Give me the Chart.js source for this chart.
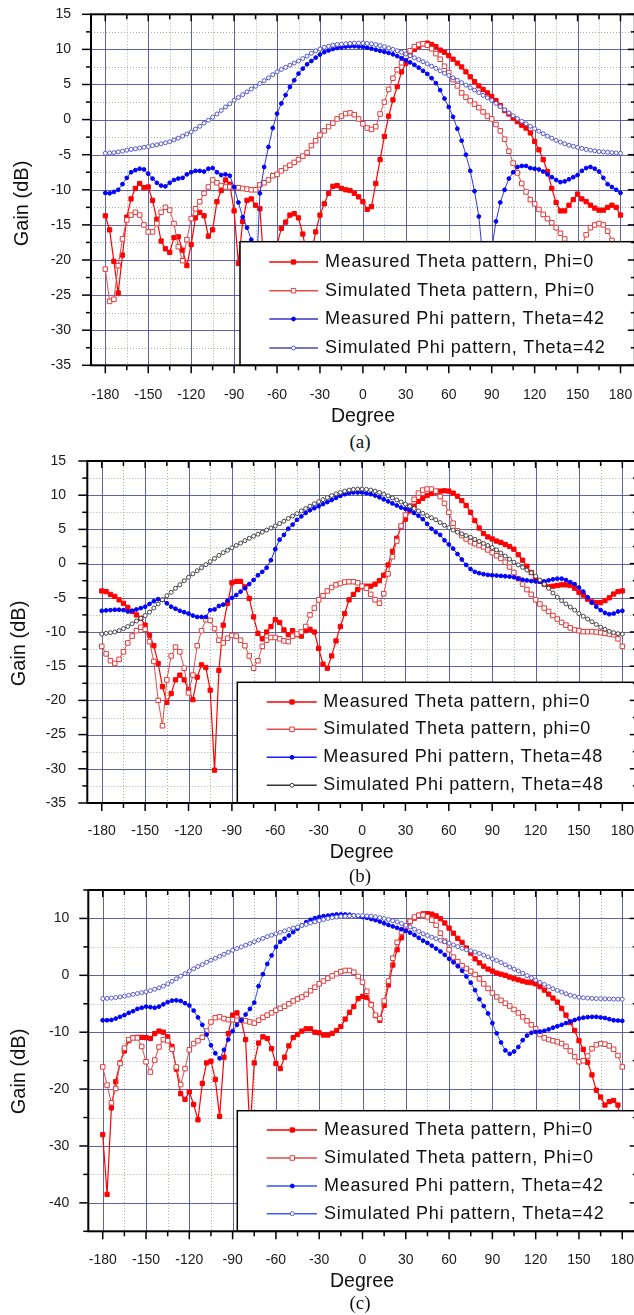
<!DOCTYPE html>
<html><head><meta charset="utf-8"><title>Gain patterns</title>
<script src="https://cdn.jsdelivr.net/npm/chart.js@4.4.1/dist/chart.umd.min.js"></script>
<style>
html,body{margin:0;padding:0;background:#fff;}
body{width:634px;height:1315px;overflow:hidden;position:relative;}
.pan{position:absolute;left:0;width:645px;}
.pan canvas{display:block;}
.cap{position:absolute;left:300px;width:120px;text-align:center;font-family:"Liberation Serif","Times New Roman",serif;font-size:19px;line-height:19px;color:#111;}
</style></head><body>
<div class="pan" style="top:0;height:430px"><canvas id="cA" width="645" height="430"></canvas></div>
<div class="cap" style="top:432px">(a)</div>
<div class="pan" style="top:450px;height:420px"><canvas id="cB" width="645" height="420"></canvas></div>
<div class="cap" style="top:866px">(b)</div>
<div class="pan" style="top:880px;height:415px"><canvas id="cC" width="645" height="415"></canvas></div>
<div class="cap" style="top:1293px">(c)</div>
<script>
// ---------------- DATA ----------------
const angles = [-180,-177,-174,-171,-168,-165,-162,-159,-156,-153,
-150,-147,-144,-141,-138,-135,-132,-129,-126,-123,
-120,-117,-114,-111,-108,-105,-102,-99,-96,-93,
-90,-87,-84,-81,-78,-75,-72,-69,-66,-63,
-60,-57,-54,-51,-48,-45,-42,-39,-36,-33,
-30,-27,-24,-21,-18,-15,-12,-9,-6,-3,
0,3,6,9,12,15,18,21,24,27,
30,33,36,39,42,45,48,51,54,57,
60,63,66,69,72,75,78,81,84,87,
90,93,96,99,102,105,108,111,114,117,
120,123,126,129,132,135,138,141,144,147,
150,153,156,159,162,165,168,171,174,177,
180];

const xTickLabels = [-180,-150,-120,-90,-60,-30,0,30,60,90,120,150,180];
const yTickLabelsAB = [-35,-30,-25,-20,-15,-10,-5,0,5,10,15];
const yTickLabelsC = [-40,-30,-20,-10,0,10];

const labelsA = ["Measured Theta pattern, Phi=0","Simulated Theta pattern, Phi=0","Measured Phi pattern, Theta=42","Simulated Phi pattern, Theta=42"];
const labelsB = ["Measured Theta pattern, phi=0","Simulated Theta pattern, phi=0","Measured Phi pattern, Theta=48","Simulated Phi pattern, Theta=48"];
const labelsC = ["Measured Theta pattern, Phi=0","Simulated Theta pattern, Phi=0","Measured Phi pattern, Theta=42","Simulated Phi pattern, Theta=42"];

// Panel (a)
const measThetaA = [-13.7,-15.7,-20.2,-24.7,-19.3,-13.9,-11.3,-9.8,-9.1,-9.7,
-9.6,-11.5,-14.2,-17.3,-18.4,-18.9,-16.8,-16.7,-18.6,-20.8,
-17.8,-14.0,-13.2,-13.7,-16.6,-15.7,-11.7,-10.1,-8.6,-9.2,
-13.0,-20.5,-14.5,-11.5,-11.3,-12.2,-12.7,-21.0,-24.0,-20.5,
-17.8,-15.5,-14.6,-13.6,-13.4,-14.0,-16.3,-19.5,-19.0,-16.0,
-13.6,-12.0,-10.5,-9.5,-9.4,-9.8,-10.0,-10.1,-10.5,-11.0,
-11.7,-12.8,-12.4,-9.1,-5.7,-2.4,0.5,2.8,4.7,6.8,
8.0,9.4,10.0,10.4,10.8,10.9,10.7,10.4,9.9,9.6,
9.1,8.6,8.05,7.5,6.8,6.1,5.4,4.8,4.3,3.8,
3.3,2.7,2.0,1.3,0.8,0.2,-0.3,-0.8,-1.2,-1.9,
-3.1,-4.3,-5.7,-7.4,-9.8,-11.8,-13.0,-13.0,-12.2,-11.4,
-10.6,-11.3,-11.7,-12.2,-12.6,-12.9,-12.9,-12.5,-12.2,-12.5,
-13.6];
const simThetaA = [-21.3,-25.9,-25.6,-20.8,-17.0,-14.3,-13.6,-13.2,-13.6,-15.0,
-16.0,-16.0,-14.8,-13.2,-12.5,-12.9,-14.8,-18.1,-20.1,-17.1,
-14.1,-12.7,-11.7,-10.5,-9.6,-8.6,-9.0,-9.4,-9.6,-9.6,
-9.7,-9.7,-9.8,-9.9,-10.0,-10.0,-9.3,-9.0,-8.6,-8.0,
-7.8,-7.3,-6.9,-6.5,-6.1,-5.7,-5.2,-4.7,-3.7,-3.0,
-2.2,-1.6,-1.0,-0.5,0.1,0.5,0.85,0.95,0.7,0.1,
-0.6,-1.2,-1.4,-1.0,0.8,2.5,4.3,5.9,7.1,8.1,
9.0,9.8,10.4,10.7,10.8,10.6,10.1,9.4,8.6,7.6,
6.7,5.7,4.8,3.8,3.2,2.7,2.2,1.7,1.1,0.5,
0.1,-0.7,-1.6,-2.8,-4.5,-6.2,-7.6,-9.1,-10.3,-11.4,
-12.0,-12.8,-13.5,-14.1,-14.7,-15.4,-16.2,-17.0,-19.5,-21.5,
-20.5,-18.0,-16.4,-15.4,-15.0,-14.8,-15.0,-15.9,-17.2,-19.5,
-21.3];
const measPhiA = [-10.45,-10.5,-10.3,-10.0,-9.2,-8.3,-7.5,-7.2,-7.0,-7.1,
-7.7,-8.4,-9.0,-9.4,-9.5,-9.0,-8.6,-8.4,-8.3,-7.8,
-7.5,-7.3,-7.3,-7.4,-7.0,-6.9,-7.5,-7.9,-7.8,-8.0,
-9.6,-11.8,-13.9,-15.4,-17.1,-25.0,-10.5,-6.75,-3.9,-1.2,
0.85,2.3,3.5,4.65,5.6,6.55,7.27,7.88,8.35,8.83,
9.26,9.6,9.85,10.05,10.2,10.3,10.4,10.45,10.45,10.4,
10.35,10.25,10.1,9.95,9.8,9.65,9.5,9.3,9.05,8.75,
8.45,8.15,7.8,7.4,6.95,6.5,5.9,5.2,4.2,3.0,
1.8,0.4,-1.3,-3.0,-5.0,-7.3,-10.2,-13.8,-20.0,-26.0,
-18.5,-14.5,-11.8,-10.0,-8.4,-7.5,-6.75,-6.6,-6.6,-6.9,
-7.0,-7.1,-7.4,-7.8,-8.2,-8.6,-8.9,-8.8,-8.5,-8.2,
-7.9,-7.3,-6.9,-6.75,-7.0,-7.4,-8.3,-9.2,-9.6,-10.0,
-10.45];
const simPhiA = [-4.8,-4.75,-4.7,-4.6,-4.5,-4.35,-4.25,-4.15,-4.05,-3.95,
-3.85,-3.7,-3.6,-3.45,-3.3,-3.15,-2.9,-2.65,-2.35,-2.05,
-1.75,-1.35,-0.95,-0.5,-0.1,0.35,0.8,1.3,1.8,2.25,
2.75,3.15,3.55,3.95,4.35,4.75,5.15,5.55,5.95,6.4,
6.8,7.15,7.45,7.75,8.05,8.35,8.7,9.05,9.45,9.8,
10.05,10.3,10.45,10.6,10.7,10.75,10.8,10.85,10.9,10.9,
10.9,10.85,10.8,10.7,10.55,10.4,10.2,10.0,9.8,9.6,
9.35,9.1,8.8,8.55,8.25,7.95,7.6,7.3,6.95,6.6,
6.3,5.95,5.6,5.25,4.9,4.55,4.2,3.85,3.45,3.1,
2.75,2.3,1.85,1.4,0.95,0.55,0.15,-0.25,-0.6,-0.95,
-1.3,-1.65,-2.0,-2.35,-2.65,-2.95,-3.2,-3.45,-3.65,-3.8,
-3.95,-4.1,-4.25,-4.35,-4.45,-4.55,-4.6,-4.65,-4.7,-4.75,
-4.8];

// Panel (b)
const measThetaB = [-4.0,-4.1,-4.5,-4.8,-5.3,-5.8,-6.4,-7.0,-7.5,-8.0,
-9.0,-10.5,-12.0,-14.6,-18.0,-20.3,-19.0,-17.0,-16.3,-17.0,
-18.4,-19.9,-16.6,-14.8,-15.2,-18.5,-30.2,-15.6,-9.0,-5.8,
-2.8,-2.6,-2.6,-3.4,-5.1,-7.8,-10.2,-11.0,-10.0,-9.2,
-8.2,-8.6,-9.7,-10.4,-9.8,-10.4,-10.6,-9.8,-9.6,-10.0,
-12.4,-14.7,-15.3,-13.5,-11.3,-9.2,-7.3,-5.3,-4.5,-3.8,
-3.4,-3.3,-3.3,-3.0,-2.5,-1.7,-0.2,1.8,3.7,5.4,
6.5,7.7,8.4,9.1,9.55,9.95,10.25,10.45,10.6,10.65,
10.6,10.3,9.85,9.2,8.5,7.5,6.3,5.2,4.4,3.9,
3.6,3.3,3.1,2.8,2.5,2.1,1.3,0.5,-0.4,-1.3,
-2.1,-2.6,-3.0,-3.4,-3.3,-3.2,-3.1,-3.1,-3.2,-3.6,
-4.2,-4.6,-5.2,-5.6,-5.7,-5.7,-5.4,-5.0,-4.45,-4.1,
-4.0];
const simThetaB = [-12.1,-13.2,-14.2,-14.6,-14.0,-12.9,-11.6,-10.6,-9.8,-9.3,
-9.6,-11.4,-14.3,-20.0,-23.7,-17.0,-13.5,-12.2,-12.9,-15.3,
-18.9,-16.3,-12.0,-9.8,-8.2,-8.3,-9.5,-11.2,-11.6,-10.9,
-10.5,-10.6,-11.2,-12.0,-13.5,-15.3,-14.2,-12.1,-11.2,-10.8,
-10.8,-11.0,-11.3,-11.4,-10.6,-10.3,-10.0,-9.2,-7.5,-6.5,
-5.3,-4.7,-4.0,-3.5,-3.1,-2.9,-2.7,-2.65,-2.65,-2.8,
-3.3,-3.6,-4.5,-5.3,-5.8,-4.4,-1.5,1.0,3.3,5.5,
7.1,8.4,9.4,10.3,10.75,10.9,10.9,10.6,9.8,8.8,
7.5,5.9,4.8,4.1,3.6,3.2,2.9,2.65,2.45,2.0,
1.6,1.15,0.75,0.2,-0.5,-1.3,-2.2,-3.0,-3.8,-4.5,
-5.3,-5.9,-6.5,-7.0,-7.6,-8.1,-8.6,-9.0,-9.4,-9.7,
-9.8,-9.95,-9.95,-9.95,-10.0,-10.1,-10.2,-10.3,-10.4,-11.0,
-12.1];
const measPhiB = [-6.9,-6.85,-6.8,-6.75,-6.75,-6.8,-7.0,-6.9,-6.7,-6.5,
-6.3,-5.9,-5.5,-5.2,-5.3,-5.8,-6.3,-6.6,-6.9,-7.1,
-7.3,-7.6,-7.8,-7.8,-7.8,-6.8,-6.7,-6.2,-6.0,-5.4,
-5.0,-4.6,-4.1,-3.6,-3.0,-2.4,-1.7,-1.2,-0.6,0.5,
2.1,3.5,4.2,5.1,5.7,6.4,6.9,7.4,7.8,8.1,
8.4,8.7,9.0,9.3,9.6,9.9,10.15,10.3,10.4,10.4,
10.4,10.3,10.15,9.95,9.7,9.4,9.1,8.8,8.5,8.2,
8.0,7.8,7.4,7.0,6.5,5.8,5.1,4.6,4.2,3.4,
2.8,2.2,1.4,0.6,-0.2,-0.8,-1.2,-1.4,-1.55,-1.65,
-1.7,-1.75,-1.8,-1.85,-1.9,-2.0,-2.2,-2.35,-2.45,-2.55,
-2.6,-2.65,-2.6,-2.45,-2.3,-2.2,-2.2,-2.4,-2.7,-3.0,
-3.5,-4.1,-4.9,-5.7,-6.3,-6.8,-7.2,-7.4,-7.3,-7.0,
-6.9];
const simPhiB = [-10.3,-10.2,-10.1,-10.0,-9.8,-9.5,-9.2,-8.8,-8.4,-8.0,
-7.6,-7.1,-6.5,-5.9,-5.3,-4.7,-4.2,-3.6,-3.1,-2.5,
-2.0,-1.5,-1.05,-0.6,-0.15,0.3,0.75,1.2,1.6,1.95,
2.3,2.65,3.0,3.35,3.7,4.0,4.3,4.6,4.9,5.2,
5.5,5.85,6.2,6.6,6.95,7.3,7.7,8.05,8.4,8.75,
9.05,9.35,9.65,9.95,10.2,10.4,10.6,10.75,10.85,10.9,
10.9,10.85,10.75,10.6,10.4,10.15,9.9,9.6,9.3,9.0,
8.7,8.4,8.05,7.7,7.35,7.0,6.7,6.4,6.0,5.6,
5.25,4.9,4.6,4.35,4.1,3.85,3.55,3.25,2.95,2.65,
2.35,2.0,1.55,1.1,0.65,0.2,-0.2,-0.55,-0.95,-1.35,
-1.85,-2.4,-3.0,-3.6,-4.3,-4.9,-5.4,-5.9,-6.35,-6.8,
-7.3,-7.7,-8.1,-8.5,-8.9,-9.3,-9.6,-9.9,-10.1,-10.25,
-10.3];

// Panel (c)
const measThetaC = [-28.0,-38.5,-23.3,-18.7,-15.4,-13.3,-11.5,-10.95,-10.9,-10.9,
-10.95,-11.1,-10.25,-9.8,-10.0,-10.8,-12.5,-16.5,-20.8,-21.8,
-20.5,-22.7,-25.4,-19.0,-15.4,-15.1,-18.3,-24.8,-14.4,-10.25,
-7.0,-6.6,-7.9,-11.3,-28.0,-15.4,-11.9,-10.8,-11.1,-12.9,
-15.5,-16.4,-14.4,-12.4,-10.95,-10.4,-9.8,-9.4,-9.4,-10.0,
-10.1,-10.5,-10.5,-10.2,-9.7,-9.0,-7.7,-6.5,-5.5,-4.1,
-3.7,-3.9,-5.1,-7.1,-7.9,-5.3,-1.7,1.8,4.5,6.6,
8.2,9.4,10.05,10.55,10.8,10.85,10.75,10.45,9.95,9.2,
8.3,7.4,6.5,5.8,4.8,3.9,2.9,2.2,1.6,1.1,
0.75,0.4,0.2,0.0,-0.3,-0.6,-0.8,-1.0,-1.2,-1.3,
-1.5,-2.0,-2.6,-3.3,-4.0,-4.7,-5.8,-7.0,-8.3,-9.7,
-11.5,-13.0,-15.3,-17.5,-20.2,-21.4,-22.8,-22.2,-22.0,-22.8,
-28.0];
const simThetaC = [-16.1,-19.3,-22.4,-19.9,-15.5,-12.8,-11.3,-11.0,-11.0,-12.5,
-15.2,-17.0,-14.9,-12.6,-11.3,-11.5,-13.0,-16.1,-19.2,-16.4,
-13.1,-12.0,-11.5,-10.9,-9.8,-8.2,-7.45,-7.3,-7.6,-7.8,
-7.8,-7.9,-7.9,-8.0,-8.2,-8.4,-7.9,-7.4,-7.0,-6.6,
-6.15,-5.8,-5.45,-5.0,-4.5,-4.15,-3.8,-3.35,-2.7,-2.1,
-1.5,-1.0,-0.5,-0.1,0.3,0.65,0.85,0.85,0.55,-0.2,
-1.2,-2.8,-5.2,-7.0,-7.6,-4.5,-1.0,3.0,5.8,7.6,
8.6,9.5,10.25,10.55,10.6,10.3,9.7,8.8,7.4,6.0,
4.5,3.2,2.4,1.7,1.2,0.7,0.15,-0.6,-1.5,-2.3,
-3.1,-3.8,-4.4,-4.9,-5.4,-6.0,-6.6,-7.3,-8.0,-8.7,
-9.4,-10.4,-11.0,-11.3,-11.5,-11.7,-12.0,-12.5,-13.3,-14.3,
-15.2,-15.0,-14.2,-12.9,-12.2,-12.0,-12.1,-12.4,-13.0,-14.1,
-16.1];
const measPhiC = [-7.9,-7.9,-7.85,-7.6,-7.3,-7.0,-6.6,-6.3,-5.9,-5.7,
-5.5,-5.6,-5.7,-5.5,-5.1,-4.7,-4.45,-4.4,-4.5,-4.9,
-5.3,-6.2,-7.4,-8.7,-10.4,-12.3,-13.7,-14.6,-13.1,-11.3,
-9.8,-8.7,-7.9,-6.9,-5.9,-4.8,-1.9,0.2,2.0,3.5,
5.0,5.9,6.45,7.0,7.6,8.2,8.8,9.35,9.75,10.05,
10.25,10.4,10.5,10.6,10.7,10.7,10.7,10.65,10.55,10.4,
10.25,10.1,9.9,9.7,9.45,9.15,8.85,8.6,8.35,8.1,
7.8,7.5,7.1,6.6,6.1,5.7,5.2,4.7,4.2,3.6,
2.9,2.3,1.6,0.8,-0.2,-1.3,-2.6,-4.2,-5.4,-6.7,
-8.4,-10.2,-11.8,-13.2,-13.8,-13.4,-12.6,-11.4,-10.6,-10.1,
-9.95,-9.9,-9.75,-9.5,-9.2,-8.95,-8.7,-8.4,-8.1,-7.85,
-7.6,-7.45,-7.35,-7.3,-7.3,-7.4,-7.5,-7.7,-7.9,-7.95,
-8.0];
const simPhiC = [-4.1,-4.05,-4.0,-3.9,-3.8,-3.65,-3.5,-3.35,-3.2,-3.05,
-2.9,-2.7,-2.45,-2.2,-1.9,-1.5,-1.05,-0.6,-0.15,0.3,
0.75,1.15,1.55,1.9,2.3,2.65,3.0,3.35,3.7,4.05,
4.4,4.7,5.0,5.3,5.6,5.9,6.2,6.5,6.8,7.05,
7.3,7.55,7.8,8.05,8.3,8.5,8.75,8.95,9.2,9.4,
9.6,9.8,10.0,10.15,10.25,10.35,10.4,10.45,10.5,10.5,
10.5,10.45,10.4,10.3,10.15,10.0,9.8,9.6,9.4,9.1,
8.8,8.5,8.1,7.7,7.3,7.0,6.7,6.45,6.15,5.9,
5.65,5.35,5.05,4.75,4.5,4.3,4.1,3.85,3.55,3.25,
2.9,2.6,2.25,1.85,1.45,1.1,0.75,0.35,-0.05,-0.45,
-0.85,-1.25,-1.6,-2.0,-2.35,-2.65,-2.95,-3.25,-3.5,-3.7,
-3.85,-3.95,-4.0,-4.05,-4.1,-4.1,-4.15,-4.15,-4.2,-4.2,
-4.2];

// ---------------- STYLES / LAYOUT ----------------
const FONT = '"Liberation Sans", Arial, Helvetica, sans-serif';
Chart.defaults.font.family = FONT;
Chart.defaults.font.size = 14;
Chart.defaults.color = '#1a1a1a';

const stMT = {line:'#ff0000', lw:1.2, ps:'rect', r:3, bg:'#ff0000', bc:'#ff0000', bw:1};
const stST = {line:'#e34a4a', lw:1, ps:'rect', r:3.2, bg:'#ffffff', bc:'#e03c3c', bw:1};
const stMPa = {line:'#3535d0', lw:1, ps:'circle', r:1.9, bg:'#0000ff', bc:'#0000ff', bw:1};
const stSPa = {line:'#4848b8', lw:1, ps:'circle', r:2, bg:'#ffffff', bc:'#5555cc', bw:1};
const stMPb = {line:'#1a1aff', lw:1, ps:'circle', r:1.9, bg:'#0000ff', bc:'#0000ff', bw:1};
const stSPb = {line:'#333333', lw:1, ps:'circle', r:2, bg:'#ffffff', bc:'#444444', bw:1};
const stMPc = {line:'#2f55ff', lw:1, ps:'circle', r:1.9, bg:'#0000ff', bc:'#0000ff', bw:1};
const stSPc = {line:'#3d5cff', lw:1, ps:'circle', r:2, bg:'#ffffff', bc:'#5a5acc', bw:1};

const panels = {
  cA: {H:430, left:91, top:14.3, right:634.8, bottom:365.3, ymin:-35, ymax:15, yLabels:yTickLabelsAB, minorStep:2.5,
       yPad:12, xPad:13,
       series:[[labelsA[0],measThetaA,stMT],[labelsA[1],simThetaA,stST],[labelsA[2],measPhiA,stMPa],[labelsA[3],simPhiA,stSPa]],
       leg:{x:240, y:241.7, rows:[262,290.7,319,348], s0:269.3, s1:318, mx:293.5, tx:325},
       gain:{x:28.3, y:203.5}, deg:{x:363, y:421.7}},
  cB: {H:420, left:87.3, top:11, right:636.8, bottom:353, ymin:-35, ymax:15, yLabels:yTickLabelsAB, minorStep:2.5,
       yPad:13.3, xPad:11.3,
       series:[[labelsB[0],measThetaB,stMT],[labelsB[1],simThetaB,stST],[labelsB[2],measPhiB,stMPb],[labelsB[3],simPhiB,stSPb]],
       leg:{x:237.3, y:232.3, rows:[252,279.3,307.3,335.3], s0:266.7, s1:316.7, mx:292, tx:323.3},
       gain:{x:25, y:193.5}, deg:{x:361.7, y:408.3}},
  cC: {H:415, left:88.3, top:10, right:636.7, bottom:351.3, ymin:-45, ymax:15, yLabels:yTickLabelsC, minorStep:5,
       yPad:11, xPad:12,
       series:[[labelsC[0],measThetaC,stMT],[labelsC[1],simThetaC,stST],[labelsC[2],measPhiC,stMPc],[labelsC[3],simPhiC,stSPc]],
       leg:{x:237.3, y:230.7, rows:[250,278,306,333.7], s0:266.7, s1:317, mx:292.3, tx:324},
       gain:{x:25, y:191.5}, deg:{x:362, y:406.7}}
};

function mark(ctx, s, x, y){
  ctx.save();
  ctx.lineWidth = s.bw; ctx.fillStyle = s.bg; ctx.strokeStyle = s.bc;
  ctx.beginPath();
  if (s.ps === 'rect'){ const h = Math.SQRT1_2 * s.r; ctx.rect(x-h, y-h, 2*h, 2*h); }
  else { ctx.arc(x, y, s.r, 0, Math.PI*2); }
  ctx.fill(); ctx.stroke();
  ctx.restore();
}

function hLine(ctx,x0,x1,y){ ctx.beginPath(); ctx.moveTo(x0,y); ctx.lineTo(x1,y); ctx.stroke(); }
function vLine(ctx,x,y0,y1){ ctx.beginPath(); ctx.moveTo(x,y0); ctx.lineTo(x,y1); ctx.stroke(); }

function yValues(cfg){
  const all = [];
  for (let k = 0; cfg.ymin + k*cfg.minorStep <= cfg.ymax + 1e-9; k++) all.push(+(cfg.ymin + k*cfg.minorStep).toFixed(2));
  return all;
}

const deco = {
  id:'deco',
  beforeDatasetsDraw(chart){
    const cfg = panels[chart.canvas.id]; const {ctx, chartArea:a, scales:{x,y}} = chart;
    ctx.save();
    // minor dotted grid
    ctx.lineWidth = 1; ctx.strokeStyle = '#a3b4a0'; ctx.setLineDash([1,2]);
    for (let i = 0; i < xTickLabels.length-1; i++){
      const v = (xTickLabels[i]+xTickLabels[i+1])/2;
      vLine(ctx, Math.round(x.getPixelForValue(v))+0.5, a.top, a.bottom);
    }
    yValues(cfg).forEach(v=>{
      if (cfg.yLabels.includes(v) || v===cfg.ymin || v===cfg.ymax) return;
      hLine(ctx, a.left, a.right, Math.round(y.getPixelForValue(v))+0.5);
    });
    // major solid grid
    ctx.setLineDash([]); ctx.strokeStyle = 'rgba(70,70,150,0.85)';
    xTickLabels.forEach(v=>vLine(ctx, Math.round(x.getPixelForValue(v))+0.5, a.top, a.bottom));
    cfg.yLabels.forEach(v=>{ if (v===cfg.ymin || v===cfg.ymax) return; hLine(ctx, a.left, a.right, Math.round(y.getPixelForValue(v))+0.5); });
    ctx.restore();
  },
  afterDatasetsDraw(chart){
    const cfg = panels[chart.canvas.id]; const {ctx, chartArea:a, scales:{x,y}} = chart;
    const L = cfg.leg;
    ctx.save();
    // legend box
    ctx.fillStyle = '#fff'; ctx.fillRect(L.x, L.y, 700, a.bottom - L.y);
    ctx.strokeStyle = '#000'; ctx.lineWidth = 1.5; ctx.strokeRect(L.x, L.y, 700, a.bottom - L.y);
    ctx.font = '18px ' + FONT; ctx.textBaseline = 'middle'; ctx.textAlign = 'left';
    if ('letterSpacing' in ctx) ctx.letterSpacing = '0.7px';
    chart.data.datasets.forEach((d,i)=>{
      const st = cfg.series[i][2]; const ry = L.rows[i];
      ctx.strokeStyle = st.line; ctx.lineWidth = 1.5; hLine(ctx, L.s0, L.s1, ry);
      mark(ctx, st, L.mx, ry);
      ctx.fillStyle = '#111'; ctx.fillText(d.label, L.tx, ry);
    });
    if ('letterSpacing' in ctx) ctx.letterSpacing = '0px';
    // frame
    ctx.strokeStyle = '#000'; ctx.lineWidth = 2;
    ctx.strokeRect(a.left, a.top, a.right - a.left, a.bottom - a.top);
    ctx.lineWidth = 1.5;
    xTickLabels.forEach((v,i)=>{
      const px = x.getPixelForValue(v);
      vLine(ctx, px, a.bottom, a.bottom+8); vLine(ctx, px, a.top, a.top+7);
      if (i < xTickLabels.length-1){
        const pm = x.getPixelForValue((v+xTickLabels[i+1])/2);
        vLine(ctx, pm, a.bottom, a.bottom+5); vLine(ctx, pm, a.top, a.top+5);
      }
    });
    yValues(cfg).forEach(v=>{
      const py = y.getPixelForValue(v); const major = cfg.yLabels.includes(v);
      hLine(ctx, a.left - (major?9:5), a.left, py);
      hLine(ctx, a.right - (major?7:4), a.right, py);
    });
    // axis titles
    ctx.fillStyle = '#111';
    ctx.font = '20px ' + FONT; ctx.textAlign = 'center'; ctx.textBaseline = 'alphabetic';
    ctx.save(); ctx.translate(cfg.gain.x, cfg.gain.y); ctx.rotate(-Math.PI/2); ctx.fillText('Gain (dB)', 0, 0); ctx.restore();
    ctx.font = '19.5px ' + FONT;
    ctx.fillText('Degree', cfg.deg.x, cfg.deg.y);
    ctx.restore();
  }
};

function build(id){
  const cfg = panels[id];
  const datasets = cfg.series.map((s,i)=>({
    label: s[0],
    data: angles.map((a,k)=>({x:a, y:s[1][k]})),
    borderColor: s[2].line, borderWidth: s[2].lw,
    pointStyle: s[2].ps, pointRadius: s[2].r,
    pointBackgroundColor: s[2].bg, pointBorderColor: s[2].bc, pointBorderWidth: s[2].bw,
    fill:false, tension:0, order: 4-i
  }));
  new Chart(document.getElementById(id), {
    type:'line',
    data:{datasets},
    options:{
      responsive:false, animation:false, devicePixelRatio:1, events:[],
      layout:{padding:{top:cfg.top, right:645-cfg.right, left:0, bottom:0}},
      plugins:{legend:{display:false}, tooltip:{enabled:false}},
      scales:{
        x:{type:'linear', min:-190, max:190,
           grid:{display:false}, border:{display:false},
           afterBuildTicks:s=>{ s.ticks = xTickLabels.map(v=>({value:v})); },
           afterFit:s=>{ s.height = cfg.H - cfg.bottom; s.paddingLeft=0; s.paddingRight=0; s.paddingTop=0; s.paddingBottom=0; },
           ticks:{autoSkip:false, maxRotation:0, minRotation:0, padding:cfg.xPad, color:'#1a1a1a', font:{size:14}, callback:v=>String(v)}},
        y:{type:'linear', min:cfg.ymin, max:cfg.ymax,
           grid:{display:false}, border:{display:false},
           afterBuildTicks:s=>{ s.ticks = cfg.yLabels.map(v=>({value:v})); },
           afterFit:s=>{ s.width = cfg.left; s.paddingLeft=0; s.paddingRight=0; s.paddingTop=0; s.paddingBottom=0; },
           ticks:{autoSkip:false, padding:cfg.yPad, color:'#1a1a1a', font:{size:14}, callback:v=>String(v)}}
      }
    },
    plugins:[deco]
  });
}
build('cA'); build('cB'); build('cC');
</script>
</body></html>
